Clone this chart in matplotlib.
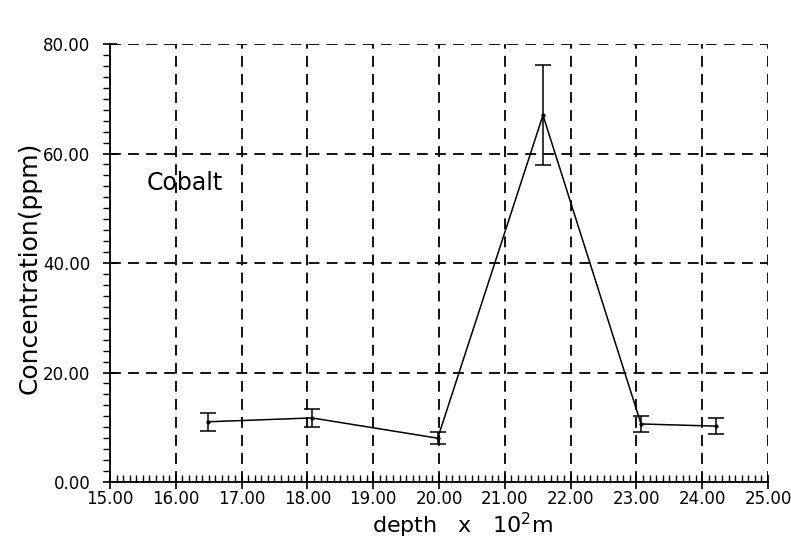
import matplotlib
matplotlib.use("Agg")
import matplotlib.pyplot as plt
from matplotlib.ticker import MultipleLocator, FormatStrFormatter

# valores
depth = [16.49, 18.07, 19.98, 21.58, 23.07, 24.21]
conc = [11.0, 11.7, 8.0, 67.0, 10.6, 10.2]
err = [1.6, 1.7, 1.1, 9.1, 1.5, 1.5]

fig = plt.figure(figsize=(7.91, 5.44), dpi=100)
ax = fig.add_axes([0.139, 0.114, 0.832, 0.805])

ax.errorbar(depth, conc, yerr=err, color='black', lw=1.1, elinewidth=1.1,
            capsize=6, capthick=1.1, marker='.', markersize=4)

ax.set_xlim(15, 25)
ax.set_ylim(0, 80)

# rejilla discontinua en cada marca mayor
ax.xaxis.set_major_locator(MultipleLocator(1))
ax.xaxis.set_minor_locator(MultipleLocator(0.1))
ax.yaxis.set_major_locator(MultipleLocator(20))
ax.yaxis.set_minor_locator(MultipleLocator(2))
ax.xaxis.set_major_formatter(FormatStrFormatter('%.2f'))
ax.yaxis.set_major_formatter(FormatStrFormatter('%.2f'))
ax.grid(True, which='major', color='black', lw=1.3, linestyle=(0, (6, 4)))

ax.spines['top'].set_visible(False)
ax.spines['right'].set_visible(False)
ax.spines['left'].set_linewidth(1.3)
ax.spines['bottom'].set_linewidth(1.3)

ax.tick_params(axis='x', which='major', direction='inout', length=10, width=1.2,
               labelsize=12, pad=1)
ax.tick_params(axis='x', which='minor', direction='in', length=5, width=1)
ax.tick_params(axis='y', which='major', direction='inout', length=10, width=1.2,
               labelsize=12, pad=9)
ax.tick_params(axis='y', which='minor', direction='out', length=5, width=1)

ax.set_xlabel('depth   x   10$^2$m', fontsize=16)
ax.xaxis.set_label_coords(0.536, -0.065)
ax.set_ylabel('Concentration(ppm)', fontsize=18)
ax.yaxis.set_label_coords(-0.104, 0.49)
ax.text(15.56, 54.6, 'Cobalt', fontsize=17, va='center', ha='left')

fig.savefig('out.png', dpi=100)
